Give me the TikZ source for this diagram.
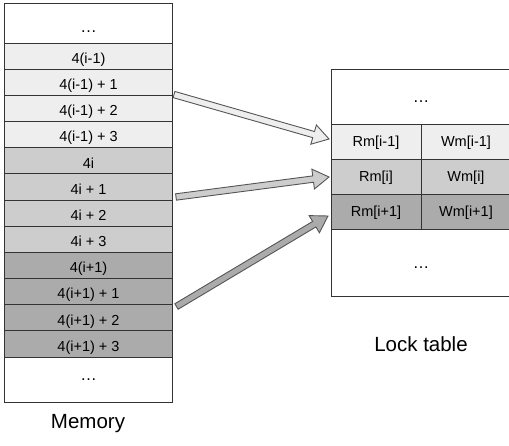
\documentclass[tikz,border=0pt]{standalone}
\usepackage{fontspec}
\setmainfont{Liberation Sans}
\usetikzlibrary{calc}
\definecolor{lightg}{HTML}{EEEEEE}
\definecolor{midg}{HTML}{CDCDCD}
\definecolor{darkg}{HTML}{ABABAB}
\definecolor{edgec}{HTML}{333333}
\definecolor{arrline}{HTML}{555555}
\tikzset{
  memcell/.style={draw=edgec, line width=0.9pt, minimum width=168pt, minimum height=26.17pt,
    inner sep=0pt, outer sep=0pt, font=\fontsize{14.5}{16}\selectfont,
    text height=14.8pt, text depth=0pt},
  lockcell/.style={draw=edgec, line width=0.9pt, minimum width=90pt, minimum height=35pt,
    inner sep=0pt, outer sep=0pt, font=\fontsize{14.5}{16}\selectfont,
    text height=10pt, text depth=0pt},
  dotscell/.style={font=\fontsize{16.5}{18}\selectfont, text depth=0pt},
  caption/.style={font=\fontsize{20.5}{24}\selectfont},
  fatarrow/.style={draw=arrline, line width=0.9pt, line join=miter}
}
\newcommand{\blockarrow}[4]{%
  \coordinate (#4) at ($(#2)!16pt!(#1)$);
  \filldraw[fatarrow, fill=#3]
    ($(#1)!3.2pt!90:(#2)$) -- ($(#4)!3.2pt!90:(#2)$) -- ($(#4)!10pt!90:(#2)$) -- (#2)
    -- ($(#4)!10pt!-90:(#2)$) -- ($(#4)!3.2pt!-90:(#2)$) -- ($(#1)!3.2pt!-90:(#2)$) -- cycle;
}
\begin{document}
\begin{tikzpicture}[x=1pt, y=-1pt]
\useasboundingbox (0,0) rectangle (509,446);
\clip (0,0) rectangle (509,446);
% Memory column
\node[memcell, dotscell, minimum height=40pt, fill=white, text height=19.4pt] (mtop) at (88.5,23) {…};
\node[memcell, fill=lightg] (m1) at (88.5,56.08) {4(i-1)};
\node[memcell, fill=lightg] (m2) at (88.5,82.25) {4(i-1) + 1};
\node[memcell, fill=lightg] (m3) at (88.5,108.42) {4(i-1) + 2};
\node[memcell, fill=lightg] (m4) at (88.5,134.6) {4(i-1) + 3};
\node[memcell, fill=midg] (m5) at (88.5,160.75) {4i};
\node[memcell, fill=midg] (m6) at (88.5,186.9) {4i + 1};
\node[memcell, fill=midg] (m7) at (88.5,213.1) {4i + 2};
\node[memcell, fill=midg] (m8) at (88.5,239.3) {4i + 3};
\node[memcell, fill=darkg] (m9) at (88.5,265.4) {4(i+1)};
\node[memcell, fill=darkg] (m10) at (88.5,291.6) {4(i+1) + 1};
\node[memcell, fill=darkg] (m11) at (88.5,317.8) {4(i+1) + 2};
\node[memcell, fill=darkg] (m12) at (88.5,343.9) {4(i+1) + 3};
\node[memcell, dotscell, minimum height=45pt, fill=white, text height=3pt] (mbot) at (88.5,379.5) {…};
\node[caption] (memlabel) at (88,424) {Memory};
% Lock table
\node[lockcell, dotscell, minimum width=180pt, minimum height=55pt, fill=white, text height=12.4pt] (ltop) at (421,96.5) {…};
\node[lockcell, fill=lightg] (r1) at (376,141.5) {Rm[i-1]};
\node[lockcell, fill=lightg] (w1) at (466,141.5) {Wm[i-1]};
\node[lockcell, fill=midg] (r2) at (376,176.5) {Rm[i]};
\node[lockcell, fill=midg] (w2) at (466,176.5) {Wm[i]};
\node[lockcell, fill=darkg] (r3) at (376,211.5) {Rm[i+1]};
\node[lockcell, fill=darkg] (w3) at (466,211.5) {Wm[i+1]};
\node[lockcell, dotscell, minimum width=180pt, minimum height=67pt, fill=white, text height=13pt] (lbot) at (421,262.5) {…};
\node[caption] (locklabel) at (421,344) {Lock table};
% Arrows
\coordinate (a1s) at ($(m2.south east)+(1.5,-0.8)$);
\coordinate (a1e) at ($(r1.west)+(-2,-2.5)$);
\coordinate (a2s) at ($(m6.south east)+(3.5,-3)$);
\coordinate (a2e) at ($(r2.west)+(-2,0.5)$);
\coordinate (a3s) at ($(m10.south east)+(4,1.8)$);
\coordinate (a3e) at ($(r3.west)+(-3,4.5)$);
\blockarrow{a1s}{a1e}{lightg}{h1}
\blockarrow{a2s}{a2e}{midg}{h2}
\blockarrow{a3s}{a3e}{darkg}{h3}
\end{tikzpicture}
\end{document}
